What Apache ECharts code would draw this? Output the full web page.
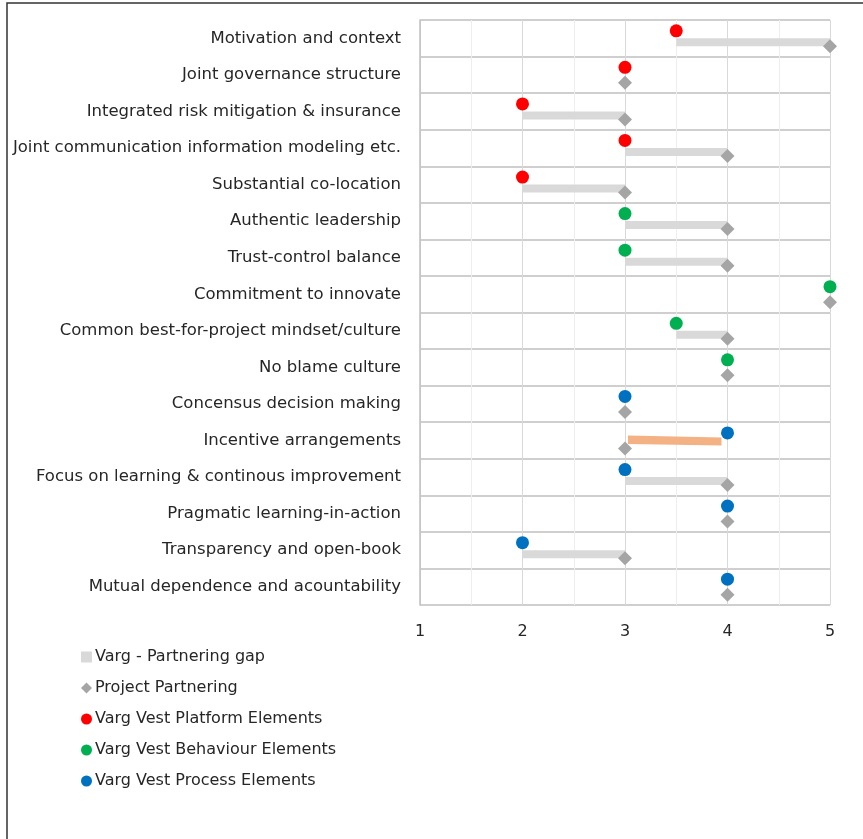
<!DOCTYPE html>
<html><head><meta charset="utf-8">
<script src="https://cdn.jsdelivr.net/npm/echarts@6/dist/echarts.min.js"></script>
<style>html,body{margin:0;padding:0;background:#fff}#c{width:863px;height:839px}</style>
</head><body><div id="c"></div>
<script>
const categories = [
  'Motivation and context',
  'Joint governance structure',
  'Integrated risk mitigation & insurance',
  'Joint communication information modeling etc.',
  'Substantial co-location',
  'Authentic leadership',
  'Trust-control balance',
  'Commitment to innovate',
  'Common best-for-project mindset/culture',
  'No blame culture',
  'Concensus decision making',
  'Incentive arrangements',
  'Focus on learning & continous improvement',
  'Pragmatic learning-in-action',
  'Transparency and open-book',
  'Mutual dependence and acountability'
];
const vargScores    = [3.5, 3, 2, 3, 2, 3, 3, 5, 3.5, 4, 3, 4, 3, 4, 2, 4];
const projectScores = [5,   3, 3, 4, 3, 4, 4, 5, 4,   4, 3, 3, 4, 4, 3, 4];
const elementGroup  = ['P','P','P','P','P','B','B','B','B','B','R','R','R','R','R','R'];
const xTicks = [1, 2, 3, 4, 5];
const highlightedGapIndex = 11;

const groupSeries = (g) => vargScores.map((v, i) => elementGroup[i] === g ? [v, categories[i]] : [null, categories[i]]);

const chart = echarts.init(document.getElementById('c'));
const FONT = 'DejaVu Sans';
const TXT = '#262626';
chart.setOption({
  animation: false,
  textStyle: { fontFamily: FONT },
  graphic: [{ type: 'rect', shape: { x: 7, y: 3, width: 900, height: 900 }, style: { fill: 'none', stroke: '#333', lineWidth: 1.5 }, z: -1 }],
  grid: { left: 420, right: 33, top: 20, bottom: 234, containLabel: false },
  legend: {
    orient: 'vertical', left: 76, top: 644, itemGap: 15, itemWidth: 11, itemHeight: 11,
    textStyle: { fontSize: 16, color: TXT, fontFamily: FONT, padding: [0, 0, 0, -2] },
    data: [
      { name: 'Varg - Partnering gap', icon: 'rect', itemStyle: { color: '#d9d9d9' } },
      { name: 'Project Partnering', icon: 'diamond', itemStyle: { color: '#a5a5a5' } },
      { name: 'Varg Vest Platform Elements', icon: 'circle' },
      { name: 'Varg Vest Behaviour Elements', icon: 'circle' },
      { name: 'Varg Vest Process Elements', icon: 'circle' }
    ]
  },
  xAxis: {
    type: 'value', min: 1, max: 5, interval: 0.5,
    axisLine: { show: false }, axisTick: { show: false },
    axisLabel: { fontSize: 16, color: TXT, margin: 19, formatter: v => xTicks.includes(v) ? String(v) : '' },
    splitLine: { show: true, lineStyle: { color: ['#d9d9d9', '#eeeeee'], width: 1 } }
  },
  yAxis: {
    type: 'category', data: categories, inverse: true,
    axisLine: { show: true, lineStyle: { color: '#bfbfbf', width: 1.5 } },
    axisTick: { show: false },
    axisLabel: { fontSize: 16.5, color: TXT, margin: 19 },
    splitLine: { show: true, lineStyle: { color: '#bfbfbf', width: 1.5 } }
  },
  series: [
    {
      name: 'Varg - Partnering gap', type: 'custom',
      itemStyle: { color: '#d9d9d9' },
      data: categories.map((c, i) => [vargScores[i], projectScores[i], i]),
      encode: { x: [0, 1], y: 2 },
      renderItem: (params, api) => {
        const a = api.value(0), b = api.value(1), idx = api.value(2);
        if (a === b) return null;
        const lo = Math.min(a, b), hi = Math.max(a, b);
        const p1 = api.coord([lo, idx]);
        const p2 = api.coord([hi, idx]);
        if (idx === highlightedGapIndex) {
          const x1 = p1[0] + 3, x2 = p2[0] - 6, cy = p1[1];
          return { type: 'polygon', shape: { points: [[x1, cy - 5], [x2, cy - 3], [x2, cy + 5], [x1, cy + 3.5]] }, style: { fill: '#f4b183' } };
        }
        return { type: 'rect', shape: { x: p1[0], y: p1[1] + 0, width: p2[0] - p1[0], height: 8 }, style: { fill: '#d9d9d9' } };
      },
      z: 1
    },
    {
      name: 'Project Partnering', type: 'scatter', symbol: 'diamond', symbolSize: 14,
      symbolOffset: [0, 8], itemStyle: { color: '#a5a5a5', opacity: 1 },
      data: projectScores.map((v, i) => [v, categories[i]]), z: 3
    },
    {
      name: 'Varg Vest Platform Elements', type: 'scatter', symbol: 'circle', symbolSize: 13,
      symbolOffset: [0, -7.5], itemStyle: { color: '#ff0000', opacity: 1 }, data: groupSeries('P'), z: 4
    },
    {
      name: 'Varg Vest Behaviour Elements', type: 'scatter', symbol: 'circle', symbolSize: 13,
      symbolOffset: [0, -7.5], itemStyle: { color: '#00b050', opacity: 1 }, data: groupSeries('B'), z: 4
    },
    {
      name: 'Varg Vest Process Elements', type: 'scatter', symbol: 'circle', symbolSize: 13,
      symbolOffset: [0, -7.5], itemStyle: { color: '#0070c0', opacity: 1 }, data: groupSeries('R'), z: 4
    }
  ]
});
</script></body></html>
